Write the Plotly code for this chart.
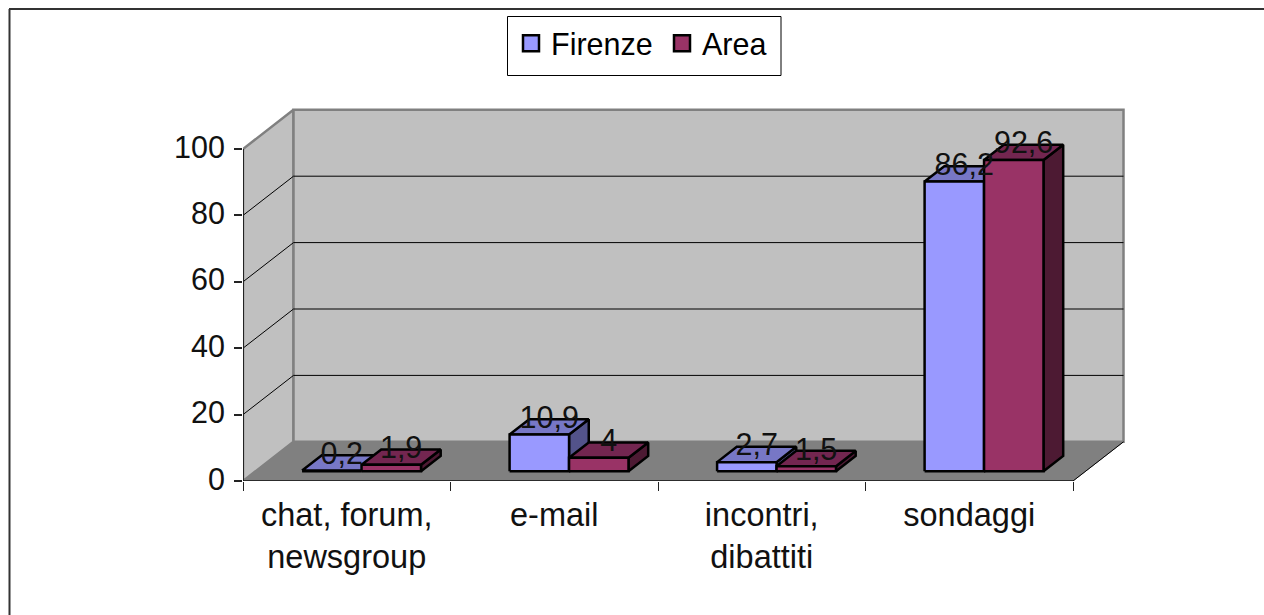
import plotly.graph_objects as go

categories = ["chat, forum,<br>newsgroup", "e-mail", "incontri,<br>dibattiti", "sondaggi"]
firenze = [0.2, 10.9, 2.7, 86.2]
area = [1.9, 4, 1.5, 92.6]
y_ticks = [0, 20, 40, 60, 80, 100]

FONT = "Liberation Sans, Arial, sans-serif"
W, H = 1264, 615
L, R, T, B = 243, 1132, 102, 481
CAT_PX = (1073 - 243) / 4
UNIT_PX = (481 - 149) / 100
DX = 50.5 / CAT_PX      # depth shift, category units
DY = 39.2 / UNIT_PX     # depth shift, value units
BAR_SCALE = 1.012
BAR_LEFT, BAR_W = 0.224, 0.2865
D0, D1 = 0.25, 0.64


def proj(x, v, d):
    return x + d * DX, v + d * DY


def poly(pts, fill, line="black", width=2.5):
    xs, ys = zip(*[proj(*p) for p in pts])
    return go.Scatter(x=list(xs) + [xs[0]], y=list(ys) + [ys[0]], mode="lines", fill="toself",
                      fillcolor=fill, line=dict(color=line, width=width),
                      hoverinfo="skip", showlegend=False, cliponaxis=False)


def path(pts, color="black", width=1):
    xs, ys = zip(*[proj(*p) for p in pts])
    return go.Scatter(x=xs, y=ys, mode="lines", line=dict(color=color, width=width),
                      hoverinfo="skip", showlegend=False, cliponaxis=False)


n = len(categories)
fig = go.Figure()
# walls and floor
fig.add_trace(poly([(0, 0, 0), (0, 100, 0), (0, 100, 1), (0, 0, 1)], "#C0C0C0", "#808080", 2.5))
fig.add_trace(poly([(0, 0, 1), (0, 100, 1), (n, 100, 1), (n, 0, 1)], "#C0C0C0", "#808080", 2.5))
fig.add_trace(poly([(0, 0, 0), (n, 0, 0), (n, 0, 1), (0, 0, 1)], "#808080", "#808080", 1))
for v in y_ticks[1:-1]:
    fig.add_trace(path([(0, v, 0), (0, v, 1), (n, v, 1)]))
fig.add_trace(path([(n, 0, 0), (n, 0, 1)]))
fig.add_trace(path([(0, 0, 0), (0, 100, 0)], "#222222", 2))
fig.add_trace(path([(0, 0, 0), (n, 0, 0)], "#111111", 1.5))

# bars
styles = [("#9999FF", "#7777C6", "#53538A"), ("#993366", "#732650", "#4D1A33")]
for i in range(n):
    for s, vals in enumerate((firenze, area)):
        x0 = i + BAR_LEFT + s * BAR_W
        x1 = x0 + BAR_W
        v = vals[i] * BAR_SCALE
        front, top, side = styles[s]
        fig.add_trace(poly([(x1, 0, D0), (x1, 0, D1), (x1, v, D1), (x1, v, D0)], side))
        fig.add_trace(poly([(x0, v, D0), (x1, v, D0), (x1, v, D1), (x0, v, D1)], top))
        fig.add_trace(poly([(x0, 0, D0), (x1, 0, D0), (x1, v, D0), (x0, v, D0)], front))

# data labels
for s, vals in enumerate((firenze, area)):
    xs, ys, txt = [], [], []
    for i in range(n):
        px_, py_ = proj(i + BAR_LEFT + (s + 0.5) * BAR_W, vals[i] * BAR_SCALE, (D0 + D1) / 2)
        xs.append(px_)
        ys.append(py_ + 2.0)
        txt.append(f"{vals[i]:g}".replace(".", ","))
    fig.add_trace(go.Scatter(x=xs, y=ys, mode="text", text=txt, textposition="middle center",
                             textfont=dict(family=FONT, size=30.5, color="#111111"),
                             hoverinfo="skip", showlegend=False, cliponaxis=False))

# legend entries
for name, col in (("Firenze", "#9999FF"), ("Area", "#993366")):
    fig.add_trace(go.Scatter(x=[None], y=[None], mode="markers", name=name,
                             marker=dict(symbol="square", size=18, color=col,
                                         line=dict(color="black", width=2.5))))


def px(x):
    return (x - L) / (R - L)


def py(y):
    return (B - y) / (B - T)


shapes = [
    dict(type="line", xref="paper", yref="paper", x0=px(9.5), x1=px(9.5), y0=py(615), y1=py(9), line=dict(color="#333333", width=2)),
    dict(type="line", xref="paper", yref="paper", x0=px(9), x1=px(1264), y0=py(9), y1=py(9), line=dict(color="#333333", width=2)),
    dict(type="rect", xref="paper", yref="paper", x0=px(507.5), x1=px(781), y0=py(75.5), y1=py(16.5), line=dict(color="black", width=1), layer="below"),
]

fig.update_layout(
    width=W, height=H, autosize=False,
    margin=dict(l=L, r=W - R, t=T, b=H - B),
    paper_bgcolor="white", plot_bgcolor="white",
    font=dict(family=FONT, size=30, color="black"),
    shapes=shapes,
    legend=dict(orientation="h", x=px(511), y=py(17), xanchor="left", yanchor="top",
                bgcolor="rgba(0,0,0,0)", borderwidth=0, font=dict(family=FONT, size=30.5),
                itemwidth=30, entrywidthmode="pixels", entrywidth=106),
    xaxis=dict(range=[0, (R - L) / CAT_PX], showgrid=False, zeroline=False, showline=False,
               tickmode="array", tickvals=[i + 0.5 for i in range(n)], ticktext=categories,
               ticks="", tickangle=0, tickfont=dict(family=FONT, size=32.5, color="#111111"),
               ticklabelstandoff=11,
               minor=dict(tickmode="array", tickvals=list(range(n + 1)), ticks="outside",
                          ticklen=9, tickcolor="#222222", tickwidth=1)),
    yaxis=dict(range=[0, (B - T) / UNIT_PX], showgrid=False, zeroline=False, showline=False,
               tickmode="array", tickvals=y_ticks, ticks="outside", ticklen=8,
               tickcolor="#222222", tickwidth=1.5, tickfont=dict(family=FONT, size=30.5, color="#111111"),
               ticklabelstandoff=3, ticklabelshift=-2),
)

fig.write_html("out.html", config=dict(displayModeBar=False),
               post_script="document.body.style.margin='0';document.body.style.overflow='hidden';")
